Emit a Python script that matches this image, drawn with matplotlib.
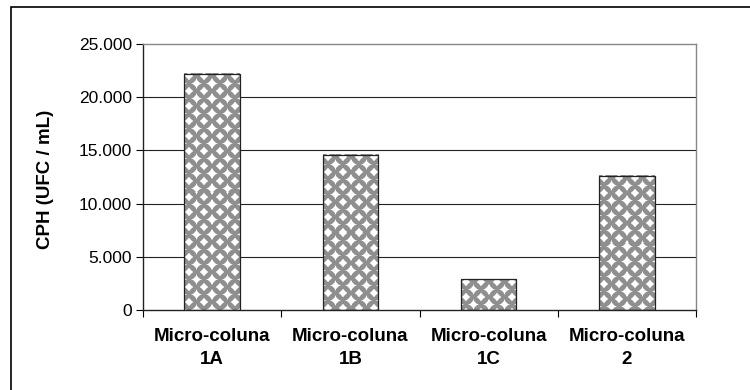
import numpy as np
import matplotlib
matplotlib.use("Agg")
import matplotlib.pyplot as plt
from matplotlib.patches import Rectangle
from matplotlib.ticker import FuncFormatter

categories = ["Micro-coluna\n1A", "Micro-coluna\n1B", "Micro-coluna\n1C", "Micro-coluna\n2"]
cph = [22200, 14600, 2900, 12600]
yticks = [0, 5000, 10000, 15000, 20000, 25000]

plt.rcParams['font.family'] = ['Liberation Sans', 'DejaVu Sans']

fig = plt.figure(figsize=(7.5, 3.9), dpi=100)
ax = fig.add_axes([143 / 750, 80 / 390, 553 / 750, 266 / 390])

# outer chart frame (only top and left edge fall inside the image)
fig.patches.append(Rectangle((11 / 750, -0.1), 2.0, (390 - 7) / 390 + 0.1,
                             transform=fig.transFigure, fill=False,
                             edgecolor="black", lw=1.2, zorder=0))

x = np.arange(len(categories))
ax.set_xlim(-0.5, len(categories) - 0.5)
ax.set_ylim(0, 25000)

for v in yticks[1:-1]:
    ax.axhline(v, color="#222222", lw=0.8, zorder=0)

bars = ax.bar(x, cph, width=0.4, facecolor="none", edgecolor="#222222",
              lw=0.9, zorder=3)


def star_dist(xx, yy, p, q=0.8):
    # L^q distance to the nearest centre of two staggered square lattices
    h = p / 2
    ax_, ay_ = np.abs(((xx + h) % p) - h), np.abs(((yy + h) % p) - h)
    bx_, by_ = np.abs((xx % p) - h), np.abs((yy % p) - h)
    da = (ax_ ** q + ay_ ** q) ** (1 / q)
    db = (bx_ ** q + by_ ** q) ** (1 / q)
    return np.minimum(da, db)


# white star / diamond fill on grey, built in screen pixels for each bar
period = 15.0
radius = 4.7
for bar in bars:
    x0, y0 = bar.get_x(), bar.get_y()
    x1, y1 = x0 + bar.get_width(), y0 + bar.get_height()
    (px0, py0), (px1, py1) = ax.transData.transform([(x0, y0), (x1, y1)])
    w = max(int(round(px1 - px0)), 1)
    h = max(int(round(py1 - py0)), 1)
    xx, yy = np.meshgrid(np.arange(w) + 0.5, np.arange(h) + 0.5)
    d = star_dist(xx - 5, yy - 3, period)
    t = np.clip((radius - d) / 1.6 + 0.5, 0, 1)
    img = 0.56 + (1.0 - 0.56) * t
    ax.imshow(img, cmap="gray", vmin=0, vmax=1, extent=(x0, x1, y0, y1),
              aspect="auto", interpolation="nearest", zorder=2)

ax.set_xlim(-0.5, len(categories) - 0.5)
ax.set_ylim(0, 25000)

ax.set_yticks(yticks)
ax.yaxis.set_major_formatter(FuncFormatter(lambda v, p: f"{int(v):,}".replace(",", ".")))
ax.set_xticks(x)
ax.set_xticklabels(categories, fontweight="bold", fontsize=13.5, linespacing=1.45)
ax.set_xticks(np.arange(-0.5, len(categories)), minor=True)
ax.tick_params(axis="x", which="major", length=0, pad=13)
ax.tick_params(axis="x", which="minor", length=5, width=0.8, direction="out")
ax.tick_params(axis="y", length=5, width=0.8, labelsize=12.5, pad=3)

ax.spines["top"].set_color("#888888")
ax.spines["right"].set_color("#888888")
ax.spines["left"].set_color("#222222")
ax.spines["bottom"].set_color("#222222")
for s in ax.spines.values():
    s.set_linewidth(1.0)

ax.set_ylabel("CPH (UFC / mL)", fontweight="bold", fontsize=13.5)
ax.yaxis.set_label_coords(54 / 750, 211 / 390, transform=fig.transFigure)

fig.savefig("out.png", dpi=100)
